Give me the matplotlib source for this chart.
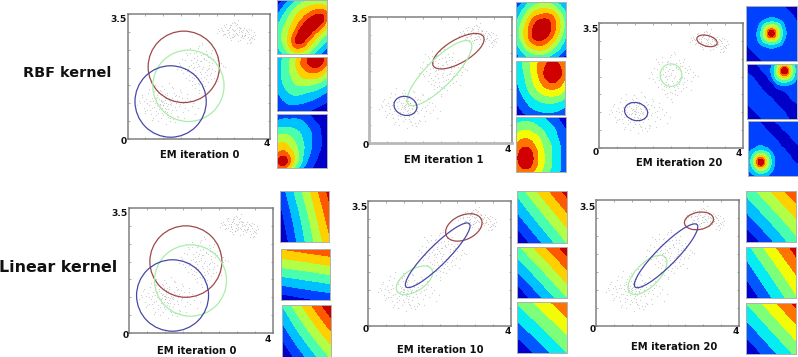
'''EM iterations on a 3 cluster toy dataset, RBF and linear kernels'''

import numpy as np
import matplotlib
matplotlib.use('Agg')
import matplotlib.pyplot as plt
from matplotlib.patches import Ellipse

W, H = 798, 357

# scatter
c1_x = [1.02,1.10,0.95,1.18,0.88,1.25,1.05,0.78,1.33,0.98,1.12,0.70,1.40,1.00,0.92,1.22,1.08,0.83,1.30,1.15,
        0.60,1.48,0.74,1.55,0.52,1.62,0.66,1.38,0.45,1.70,0.85,1.27,0.58,1.44,0.97,1.19,0.36,1.80,0.72,1.58,
        1.03,0.90,1.14,0.80,1.35,0.63,1.50,0.48,1.66,0.28,1.90,0.94,1.24,0.76,1.42,1.07,0.86,1.17,0.55,1.75,
        1.01,1.09,0.99,1.13,0.93,1.21,1.06,0.89,1.28,0.82,1.36,1.04,1.16,0.96,1.11,0.68,1.52,0.42,1.98,1.32,
        1.00,1.04,0.97,1.08,0.91,1.15,1.20,0.87,0.79,1.26,0.71,1.34,0.64,1.45,0.56,1.60,1.12,0.94,1.06,0.84,
        1.18,1.02,0.75,1.39,0.50,1.68,0.40,1.85,0.33,1.47,0.61,1.29,1.10,0.98,1.23,0.81,1.37,0.69,1.56,0.47]
c1_y = [1.00,0.92,1.10,1.05,0.85,1.15,0.78,1.02,0.90,1.25,1.30,0.88,1.08,0.68,1.38,0.72,1.18,1.22,1.28,0.62,
        0.95,0.98,1.35,0.75,1.12,1.05,0.70,0.55,0.88,0.82,0.50,1.42,1.28,1.20,1.48,0.50,1.00,0.92,0.58,0.60,
        1.20,0.95,0.85,0.78,1.00,1.05,1.32,0.72,1.25,0.95,0.70,0.60,1.45,1.52,0.62,0.42,1.30,1.58,0.82,1.10,
        1.05,1.02,0.96,0.98,1.06,0.94,0.88,1.12,1.08,0.96,0.82,1.16,1.10,0.86,0.76,1.15,1.15,1.22,0.88,0.48,
        0.94,1.08,1.03,0.83,0.99,1.12,0.97,0.74,1.14,0.82,1.06,1.20,0.80,0.93,1.02,0.88,0.66,1.34,1.26,1.18,
        0.58,1.40,0.90,0.65,0.78,1.15,1.18,1.02,1.06,1.36,1.40,0.55,1.24,0.72,1.02,0.68,1.22,0.52,1.00,1.05]
c2_x = [2.00,2.08,1.92,2.15,1.85,2.22,1.78,2.30,2.05,1.95,2.12,1.70,2.38,1.88,2.25,2.02,1.62,2.45,1.98,2.18,
        1.55,2.52,1.74,2.33,1.48,2.60,1.82,2.10,1.68,2.42,1.90,2.27,1.58,2.50,2.06,1.94,1.40,2.68,1.76,2.36,
        2.03,2.14,1.86,2.20,1.97,2.28,1.80,2.35,1.65,2.55,2.01,2.09,1.91,2.17,1.84,2.24,1.72,2.40,1.52,2.62,
        1.99,2.11,1.89,2.26,1.78,2.32,2.07,1.93,2.19,1.83,2.04,1.96,2.13,1.87,2.23,1.75,2.31,1.67,2.44,1.60,
        2.16,1.81,2.29,2.06,1.90,2.37,1.50,2.48,1.73,2.21,2.00,1.94,2.10,1.86,2.34,1.64,2.56,1.44,2.74,2.02]
c2_y = [2.05,1.95,2.15,2.25,1.85,1.78,2.08,2.00,2.35,1.70,1.62,1.95,2.12,2.42,2.30,1.55,2.20,1.90,2.55,1.88,
        1.85,2.22,1.65,2.40,2.08,1.98,1.50,2.62,2.35,1.72,1.42,1.60,2.48,2.30,1.82,2.02,1.95,2.05,2.55,2.50,
        2.18,2.28,2.28,1.68,1.58,2.15,1.75,1.85,1.72,1.62,1.36,2.68,2.45,1.48,2.00,2.38,2.05,2.25,2.25,2.12,
        2.10,2.02,1.92,1.95,2.22,1.78,1.72,1.80,2.20,2.12,1.88,2.32,2.38,2.02,1.92,2.42,2.30,1.90,2.18,2.00,
        1.75,1.62,2.08,2.18,1.55,1.95,1.92,2.10,1.80,2.46,2.60,2.22,1.52,1.70,1.68,2.42,1.88,2.12,2.02,1.30]
c3_x = [3.00,3.08,2.92,3.15,2.85,3.22,2.78,3.30,3.05,2.95,3.12,2.70,3.38,2.88,3.25,3.02,2.62,3.45,2.98,3.18,
        2.55,3.52,2.74,3.33,3.58,3.48,2.82,3.10,2.68,3.42,2.90,3.27,2.58,3.50,3.06,2.94,3.40,3.55,2.76,3.36,
        3.03,3.14,2.86,3.20,2.97,3.28,2.80,3.35,2.65,3.47,3.01,3.09,2.91,3.17,2.84,3.24,2.72,3.44,2.52,3.31,
        3.04,2.96,3.11,2.89,3.19,2.83,3.07,2.99,3.21,2.75,3.29,2.93,3.13,2.87,3.37,3.46,3.41,3.54,2.67,3.16]
c3_y = [3.02,2.95,3.08,3.12,2.92,2.88,3.05,2.98,3.18,2.85,3.15,2.95,3.00,3.20,2.82,2.90,3.10,2.80,3.28,2.85,
        3.08,2.88,3.15,3.05,2.92,2.72,2.98,3.32,2.90,2.95,2.78,3.10,3.02,2.82,3.12,2.85,2.78,3.00,3.22,2.70,
        3.05,3.00,3.12,2.92,2.95,2.88,2.85,3.02,3.05,3.05,3.25,2.75,3.18,3.10,3.00,3.05,3.20,2.68,2.98,2.92,
        2.98,3.04,2.90,3.14,3.02,3.06,3.22,2.88,3.00,2.94,2.92,3.26,3.06,2.84,2.86,2.85,3.08,2.80,3.02,2.78]

# ellipses per panel: (cx, cy, width, height, angle), red / green / blue
ell_a = [(1.58, 2.02, 2.0, 2.0, 0), (1.71, 1.49, 2.0, 2.0, 0), (1.21, 1.05, 2.0, 2.0, 0)]
ell_b = [(2.50, 2.55, 1.62, 0.65, 30), (1.97, 1.94, 2.45, 0.75, 45), (1.02, 1.03, 0.65, 0.52, -15)]
ell_c = [(3.00, 3.00, 0.58, 0.30, -15), (2.00, 2.04, 0.60, 0.63, 0), (1.03, 1.02, 0.65, 0.50, -15)]
ell_d = [(1.58, 2.00, 2.0, 2.0, 0), (1.71, 1.47, 2.0, 2.0, 0), (1.21, 1.05, 2.0, 2.0, 0)]
ell_e = [(2.68, 2.76, 1.08, 0.68, 25), (1.30, 1.28, 1.15, 0.60, 33), (1.95, 1.98, 2.50, 0.55, 45)]
ell_f = [(2.88, 2.92, 0.82, 0.48, 10), (1.44, 1.42, 1.40, 0.65, 45), (1.96, 1.95, 2.45, 0.55, 45)]

# heat maps, top row first, in colour band units
map_a1 = [[0.2,1.0,2.0,2.9,3.5,3.9,4.2,4.2,3.8],[1.0,2.0,3.0,3.9,4.6,5.0,5.3,5.4,5.0],
          [1.8,2.8,3.8,4.7,5.4,6.0,6.6,6.9,6.2],[2.5,3.4,4.4,5.3,6.1,7.1,7.8,7.6,5.9],
          [3.0,3.9,4.9,5.8,7.1,7.9,7.5,6.3,5.0],[3.3,4.2,5.2,6.5,7.8,7.4,6.1,5.0,3.9],
          [3.2,4.2,5.4,7.1,7.4,6.1,5.0,3.9,3.0],[2.8,3.8,5.0,6.1,6.0,5.0,3.9,3.0,2.0],
          [2.2,3.0,3.9,4.6,4.4,3.8,2.9,1.9,0.8]]
map_a2 = [[2.4,3.0,3.8,4.8,6.0,7.2,8.0,7.6,6.4],[2.6,3.2,4.0,5.0,6.2,7.0,7.6,7.2,6.0],
          [2.6,3.2,4.0,4.8,5.6,6.2,6.4,6.0,5.0],[2.4,3.2,3.8,4.4,5.0,5.2,5.2,4.8,4.0],
          [2.2,3.0,3.6,4.0,4.2,4.2,4.0,3.6,3.0],[2.0,2.6,3.2,3.4,3.4,3.2,3.0,2.6,2.2],
          [1.6,2.2,2.6,2.8,2.6,2.4,2.2,1.8,1.4],[1.2,1.7,2.0,2.0,1.9,1.7,1.4,1.1,0.8],
          [0.8,1.2,1.4,1.4,1.2,1.0,0.8,0.4,0.0]]
map_a3 = [[1.2,1.4,1.4,1.4,1.3,1.0,0.6,0.2,0.0],[2.0,2.2,2.2,2.2,2.0,1.6,1.0,0.6,0.1],
          [2.9,3.0,3.0,2.8,2.5,2.0,1.5,0.9,0.4],[3.8,4.0,3.8,3.4,2.9,2.3,1.7,1.0,0.6],
          [4.6,4.8,4.5,3.8,3.1,2.4,1.7,1.1,0.6],[5.4,5.6,5.0,4.2,3.3,2.4,1.6,1.0,0.5],
          [6.0,6.6,5.8,4.6,3.2,2.2,1.4,0.8,0.4],[6.8,8.0,6.2,4.5,3.0,1.8,1.1,0.6,0.3],
          [5.8,6.3,5.2,3.6,2.2,1.4,0.8,0.4,0.2]]
map_b1 = [[0.8,1.8,2.8,3.4,3.8,3.8,3.4,2.6,1.8],[1.8,2.8,3.8,4.6,5.0,5.0,4.6,3.6,2.6],
          [2.4,3.6,4.8,5.8,6.2,6.4,5.8,4.6,3.2],[3.0,4.2,5.6,6.8,7.6,7.4,6.4,5.0,3.6],
          [3.2,4.6,6.0,7.4,8.0,7.6,6.4,5.0,3.4],[3.2,4.6,6.0,7.4,7.6,7.0,5.8,4.4,3.0],
          [2.8,4.0,5.4,6.2,6.4,5.8,4.8,3.6,2.4],[2.2,3.2,4.2,4.8,5.0,4.6,3.6,2.8,1.8],
          [1.4,2.4,3.0,3.4,3.4,3.0,2.4,1.6,0.4]]
map_b2 = [[2.4,3.0,3.8,4.5,5.2,5.8,6.0,5.8,5.2],[2.2,2.9,3.7,4.6,5.4,6.2,6.8,6.2,5.4],
          [2.0,2.7,3.6,4.4,5.4,6.4,7.0,6.4,5.4],[1.9,2.5,3.4,4.2,5.0,5.8,6.2,5.7,4.8],
          [1.7,2.3,3.1,3.8,4.5,5.0,5.2,4.9,4.2],[1.4,2.0,2.7,3.3,3.8,4.1,4.2,4.0,3.4],
          [1.0,1.6,2.2,2.7,3.0,3.2,3.2,3.0,2.6],[0.6,1.2,1.7,2.1,2.3,2.4,2.4,2.2,1.9],
          [0.0,0.7,1.1,1.5,1.7,1.8,1.7,1.6,1.3]]
map_b3 = [[2.4,2.6,2.6,2.5,2.2,1.8,1.4,0.7,0.0],[3.0,3.2,3.2,3.0,2.6,2.2,1.8,1.2,0.6],
          [3.6,4.0,4.0,3.6,3.2,2.6,2.2,1.6,1.0],[4.4,4.8,4.8,4.4,3.8,3.0,2.4,1.8,1.2],
          [5.0,5.6,5.6,4.9,4.1,3.4,2.7,2.0,1.4],[5.4,6.3,6.4,5.4,4.4,3.5,2.8,2.1,1.5],
          [5.6,6.8,7.0,5.6,4.5,3.6,2.8,2.1,1.6],[5.4,6.3,6.4,5.4,4.4,3.5,2.8,2.1,1.5],
          [4.6,5.4,5.4,4.8,4.0,3.2,2.5,2.0,1.4]]
map_c1 = [[1.5,1.5,1.5,1.5,1.5,1.4,1.0,0.5,0.2],[1.5,1.5,1.5,1.5,1.6,1.6,1.4,1.0,0.5],
          [1.5,1.5,1.6,2.0,2.4,2.1,1.6,1.4,0.9],[1.5,1.5,2.0,3.8,4.8,3.9,2.1,1.5,1.4],
          [1.5,1.5,2.4,4.8,8.0,4.9,2.4,1.5,1.5],[1.2,1.5,2.1,3.7,4.6,3.7,2.0,1.5,1.5],
          [0.8,1.2,1.5,1.9,2.2,1.9,1.5,1.5,1.5],[0.4,0.8,1.2,1.4,1.5,1.5,1.5,1.5,1.5],
          [0.2,0.4,0.8,1.1,1.4,1.5,1.5,1.5,1.5]]
map_c2 = [[0.6,0.7,1.2,1.5,1.9,3.7,4.8,3.7,1.9],[0.9,0.5,0.8,1.3,2.3,4.8,8.0,4.8,2.3],
          [1.4,1.0,0.5,0.6,1.9,3.7,4.8,3.7,1.9],[1.5,1.4,0.9,0.5,0.7,1.9,2.3,1.9,1.5],
          [1.5,1.5,1.3,0.9,0.5,0.6,1.0,1.3,1.4],[1.3,1.5,1.5,1.3,1.0,0.5,0.6,1.0,1.3],
          [0.9,1.2,1.5,1.5,1.3,1.0,0.5,0.6,0.9],[0.5,0.9,1.2,1.5,1.5,1.3,1.0,0.6,0.5],
          [0.3,0.5,0.8,1.2,1.5,1.4,1.2,0.9,0.5]]
map_c3 = [[1.5,1.5,0.8,0.5,0.9,1.3,1.5,1.5,1.5],[1.5,1.5,1.4,0.8,0.5,0.8,1.3,1.5,1.5],
          [1.5,1.5,1.5,1.3,0.9,0.5,0.7,1.2,1.5],[1.6,1.7,1.8,1.6,1.3,0.9,0.5,0.8,1.2],
          [1.6,2.0,2.4,2.1,1.5,1.2,0.9,0.5,0.7],[1.8,3.5,4.9,3.9,2.1,1.4,1.2,0.9,0.6],
          [2.0,4.4,8.0,5.0,2.4,1.5,1.4,1.1,0.9],[1.7,3.2,4.6,3.6,2.0,1.5,1.5,1.4,1.2],
          [1.5,1.8,2.2,1.9,1.5,1.5,1.5,1.5,1.5]]
map_d1 = [[1.3,4.3,7.3],[0.6,3.5,6.5],[0.0,2.9,5.7]]
map_d2 = [[6.0,6.4,6.8],[3.2,3.6,4.0],[0.3,0.8,1.2]]
map_d3 = [[3.0,5.5,7.9],[1.5,3.8,6.0],[0.0,2.1,4.1]]
map_e1 = [[3.3,5.4,7.4],[1.7,3.7,5.7],[0.0,2.0,4.0]]
map_e2 = [[3.7,5.7,7.6],[1.9,3.8,5.8],[0.0,2.0,3.9]]
map_e3 = [[3.1,4.5,5.9],[1.6,3.0,4.4],[0.0,1.5,3.0]]
map_f1 = [[3.3,5.0,6.8],[1.7,3.4,5.1],[0.0,1.8,3.6]]
map_f2 = [[2.6,4.6,6.5],[1.3,3.2,5.1],[0.0,1.9,3.8]]
map_f3 = [[3.0,4.6,6.3],[1.5,3.1,4.7],[0.0,1.6,3.2]]

row_titles = ['RBF kernel', 'Linear kernel']
iter_titles = ['EM iteration 0', 'EM iteration 1', 'EM iteration 20',
               'EM iteration 0', 'EM iteration 10', 'EM iteration 20']
ell_colors = ['#a04848', '#a8eea8', '#4848a8']

fig = plt.figure(figsize=(W / 100, H / 100), dpi=100)


def px_axes(x0, y0, x1, y1):
    # pixel box, y measured from the top
    return fig.add_axes([x0 / W, 1 - y1 / H, (x1 - x0) / W, (y1 - y0) / H])


def px_text(x, y, s, size):
    fig.text(x / W, 1 - y / H, s, fontsize=size, fontweight='bold',
             ha='center', va='center', color='#111111')


def refine(vals, k=16):
    # catmull-rom along the first axis, so the bands come out round
    p = np.pad(vals, ((1, 1), (0, 0)), mode='reflect', reflect_type='odd')
    t = np.linspace(0, vals.shape[0] - 1, (vals.shape[0] - 1) * k + 1)
    i = np.minimum(t.astype(int), vals.shape[0] - 2)
    f = (t - i)[:, None]
    p0, p1, p2, p3 = p[i], p[i + 1], p[i + 2], p[i + 3]
    return 0.5 * (2 * p1 + (p2 - p0) * f + (2 * p0 - 5 * p1 + 4 * p2 - p3) * f ** 2
                  + (3 * p1 - p0 - 3 * p2 + p3) * f ** 3)


def draw_panel(box, ells, title, title_xy, label_xy, thick=False):
    ax = px_axes(*box)
    ax.scatter(c1_x + c2_x + c3_x, c1_y + c2_y + c3_y, s=0.8, c='#8a8a8a',
               alpha=0.42, linewidths=0)
    for (cx, cy, w, h, ang), col in zip(ells, ell_colors):
        ax.add_patch(Ellipse((cx, cy), w, h, angle=ang, fill=False,
                             edgecolor=col, lw=0.9))
    ax.set_xlim(0, 4)
    ax.set_ylim(0, 3.5)
    ax.set_xticks(np.arange(0, 4.01, 0.5))
    ax.set_yticks(np.arange(0, 3.51, 0.5))
    ax.tick_params(direction='in', length=1.5, width=0.5, color='#888888',
                   top=True, right=True, labelleft=False, labelbottom=False)
    for sp in ax.spines.values():
        sp.set_color('#808080')
        sp.set_linewidth(1.1)
    if thick:
        ax.spines['left'].set(color='#b8b8b8', linewidth=2)
        ax.spines['bottom'].set(color='#b8b8b8', linewidth=2)
    px_text(title_xy[0], title_xy[1], title, 7.2)
    for (x, y), s in zip(label_xy, ['3.5', '0', '4']):
        px_text(x, y, s, 6.6)


def draw_map(box, values, bands):
    ax = px_axes(*box)
    vals = refine(refine(np.array(values, dtype=float)).T).T
    vals = np.clip(vals, 0.001, bands - 0.001)
    cols = plt.cm.jet((np.arange(bands) + 0.5) / bands)
    xs = np.linspace(0, 1, vals.shape[1])
    ys = np.linspace(1, 0, vals.shape[0])
    ax.contourf(xs, ys, vals, levels=np.arange(bands + 1), colors=cols)
    ax.set_xlim(0, 1)
    ax.set_ylim(0, 1)
    ax.set_xticks([])
    ax.set_yticks([])
    for sp in ax.spines.values():
        sp.set_color('#b0b0b0')
        sp.set_linewidth(0.7)


draw_panel((127.5, 14, 270, 139), ell_a, iter_titles[0], (200, 155),
           [(119, 19), (124, 142), (267, 144)])
draw_panel((369, 17, 512, 143), ell_b, iter_titles[1], (444, 160),
           [(360, 20), (366, 146), (508, 149)], thick=True)
draw_panel((599, 23, 743, 148), ell_c, iter_titles[2], (679, 163),
           [(591, 29), (596, 152), (739, 154)])
draw_panel((129, 208, 273, 333), ell_d, iter_titles[3], (197, 351),
           [(120, 214), (126, 336), (268, 339)])
draw_panel((368, 201, 511, 326), ell_e, iter_titles[4], (440, 350),
           [(360, 208), (366, 330), (508, 331)])
draw_panel((596, 200, 739, 326), ell_f, iter_titles[5], (674, 347),
           [(588, 207), (593, 329), (736, 331)])

draw_map((277, 0, 327, 54), map_a1, 8)
draw_map((277, 57, 327, 111), map_a2, 8)
draw_map((277, 114, 327, 168), map_a3, 8)
draw_map((516, 2, 566, 57), map_b1, 8)
draw_map((516, 61, 565, 115), map_b2, 7)
draw_map((516, 117, 566, 172), map_b3, 7)
draw_map((746, 6, 797, 61), map_c1, 8)
draw_map((747, 64, 797, 119), map_c2, 8)
draw_map((748, 121, 798, 176), map_c3, 8)
draw_map((280, 191, 329, 242), map_d1, 8)
draw_map((281, 249, 330, 300), map_d2, 8)
draw_map((282, 305, 331, 357), map_d3, 8)
draw_map((517, 191, 567, 243), map_e1, 8)
draw_map((517, 247, 567, 298), map_e2, 8)
draw_map((517, 302, 567, 353), map_e3, 7)
draw_map((746, 191, 796, 242), map_f1, 8)
draw_map((746, 247, 796, 298), map_f2, 7)
draw_map((746, 303, 796, 354), map_f3, 7)

px_text(67.5, 73, row_titles[0], 10.4)
px_text(58, 267, row_titles[1], 11.4)

fig.savefig('out.png', dpi=100)
